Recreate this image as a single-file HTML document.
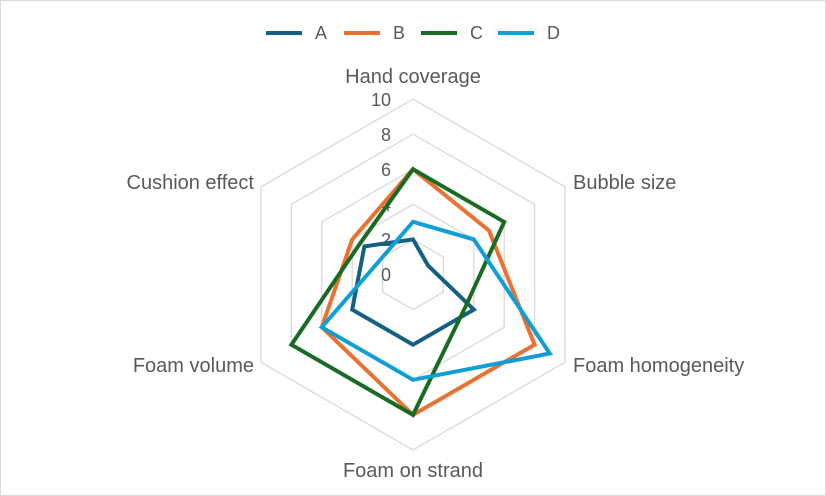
<!DOCTYPE html>
<html><head><meta charset="utf-8"><style>
html,body{margin:0;padding:0;background:#fff}
svg{display:block}
text{font-family:"Liberation Sans",sans-serif;fill:#595959;font-size:17px}
.ax{font-size:20px}
.tk{font-size:18px}
</style></head><body>
<svg width="826" height="496" viewBox="0 0 826 496" xmlns="http://www.w3.org/2000/svg">
<rect x="0.5" y="0.5" width="825" height="495" fill="#fff" stroke="#d9d9d9"/>
<g fill="none" stroke="#d9d9d9" stroke-width="1.3">
<polygon points="413,239.4 443.4,257 443.4,292 413,309.6 382.6,292 382.6,257"/>
<polygon points="413,204.3 473.8,239.4 473.8,309.6 413,344.7 352.2,309.6 352.2,239.4"/>
<polygon points="413,169.2 504.2,221.9 504.2,327.2 413,379.8 321.8,327.2 321.8,221.9"/>
<polygon points="413,134.1 534.6,204.3 534.6,344.7 413,414.9 291.4,344.7 291.4,204.3"/>
<polygon points="413,99 565,186.75 565,362.25 413,450 261,362.25 261,186.75"/>
</g>
<g text-anchor="end" class="tk">
<text class="tk" x="391" y="106">10</text>
<text class="tk" x="391" y="141">8</text>
<text class="tk" x="391" y="176">6</text>
<text class="tk" x="391" y="211">4</text>
<text class="tk" x="391" y="246">2</text>
<text class="tk" x="391" y="281">0</text>
</g>
<g fill="none" stroke-width="4" stroke-linejoin="miter">
<polygon stroke="#156082" points="413,239.4 428.2,265.7 473.8,309.6 413,344.7 352.2,309.6 364.4,246.4"/>
<polygon stroke="#E97132" points="413,169.2 489,230.6 534.6,344.7 413,414.9 321.8,327.2 352.2,239.4"/>
<polygon stroke="#196B24" points="413,169.2 504.2,221.9 466.2,305.2 413,414.9 291.4,344.7 359.8,243.8"/>
<polygon stroke="#0F9ED5" points="413,221.85 473.8,239.4 549.8,353.5 413,379.8 321.8,327.2 382.6,257"/>
</g>
<text class="ax" x="413" y="83" text-anchor="middle">Hand coverage</text>
<text class="ax" x="573" y="189">Bubble size</text>
<text class="ax" x="573" y="372">Foam homogeneity</text>
<text class="ax" x="413" y="477" text-anchor="middle">Foam on strand</text>
<text class="ax" x="254" y="372" text-anchor="end">Foam volume</text>
<text class="ax" x="254" y="189" text-anchor="end">Cushion effect</text>
<g stroke-width="4">
<line x1="266" y1="33" x2="302" y2="33" stroke="#156082"/>
<line x1="344" y1="33" x2="380" y2="33" stroke="#E97132"/>
<line x1="421" y1="33" x2="457" y2="33" stroke="#196B24"/>
<line x1="498" y1="33" x2="534" y2="33" stroke="#0F9ED5"/>
</g>
<text class="tk" x="315" y="39">A</text>
<text class="tk" x="393" y="39">B</text>
<text class="tk" x="470" y="39">C</text>
<text class="tk" x="547" y="39">D</text>
</svg>
</body></html>
